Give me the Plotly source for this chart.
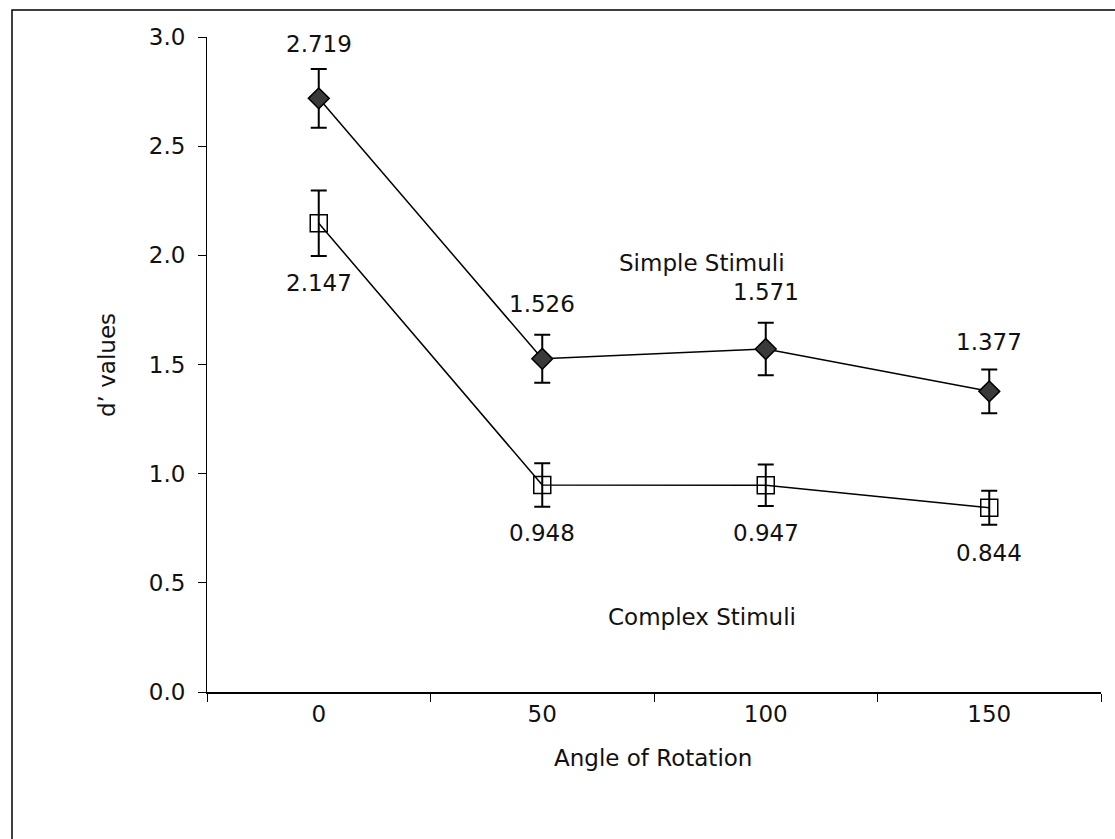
import plotly.graph_objects as go

angles = ["0", "50", "100", "150"]
simple_vals = [2.719, 1.526, 1.571, 1.377]
simple_err = [0.135, 0.11, 0.12, 0.10]
complex_vals = [2.147, 0.948, 0.947, 0.844]
complex_err = [0.15, 0.10, 0.095, 0.078]
y_ticks = [0.0, 0.5, 1.0, 1.5, 2.0, 2.5, 3.0]

FONT = "Century Gothic, URW Gothic, DejaVu Sans, sans-serif"
FS = 23

fig = go.Figure()
fig.add_trace(go.Scatter(
    x=angles, y=complex_vals, mode="lines+markers", name="Complex Stimuli",
    line=dict(color="black", width=1.5),
    marker=dict(symbol="square-open", size=17, color="black", line=dict(width=1.5)),
    error_y=dict(type="data", array=complex_err, color="black", thickness=2, width=8),
    showlegend=False,
))
fig.add_trace(go.Scatter(
    x=angles, y=simple_vals, mode="lines+markers", name="Simple Stimuli",
    line=dict(color="black", width=1.5),
    marker=dict(symbol="diamond", size=16, color="#3a3a3a", line=dict(color="black", width=1.5)),
    error_y=dict(type="data", array=simple_err, color="black", thickness=2, width=8),
    showlegend=False,
))

annotations = []
simple_shift = [54, 55, 57, 49]
complex_shift = [-60, -48, -48, -45]
for i, (v, s) in enumerate(zip(simple_vals, simple_shift)):
    annotations.append(dict(x=i, y=v, xref="x", yref="y", text=f"{v:.3f}", showarrow=False,
                            yshift=s, font=dict(family=FONT, size=FS, color="#111")))
for i, (v, s) in enumerate(zip(complex_vals, complex_shift)):
    annotations.append(dict(x=i, y=v, xref="x", yref="y", text=f"{v:.3f}", showarrow=False,
                            yshift=s, font=dict(family=FONT, size=FS, color="#111")))

annotations += [
    dict(x=(702 - 207) / 894, y=(692 - 248) / 655, xref="paper", yref="paper", text="Simple Stimuli",
         showarrow=False, font=dict(family=FONT, size=FS, color="#111")),
    dict(x=(702 - 207) / 894, y=(692 - 632) / 655, xref="paper", yref="paper", text="Complex Stimuli",
         showarrow=False, font=dict(family=FONT, size=FS, color="#111")),
    dict(x=(92 - 207) / 894, y=(692 - 365) / 655, xref="paper", yref="paper", text="d’ values",
         textangle=-90, showarrow=False, font=dict(family=FONT, size=FS, color="#111")),
    dict(x=(653 - 207) / 894, y=(692 - 773) / 655, xref="paper", yref="paper", text="Angle of Rotation",
         showarrow=False, font=dict(family=FONT, size=FS, color="#111")),
]

fig.update_layout(
    width=1115, height=839,
    margin=dict(l=207, r=14, t=37, b=147),
    paper_bgcolor="white", plot_bgcolor="white",
    font=dict(family=FONT, size=FS, color="#111"),
    annotations=annotations,
    shapes=[dict(type="rect", xref="paper", yref="paper",
                 x0=(12 - 207) / 894, x1=1.05, y0=-0.3, y1=(692 - 10) / 655,
                 line=dict(color="black", width=1.5), fillcolor="rgba(0,0,0,0)", layer="below")],
)
fig.update_xaxes(
    type="category", range=[-0.5, 3.5], tickson="boundaries",
    showline=True, linecolor="black", linewidth=2, ticks="outside", ticklen=8,
    tickcolor="black", tickwidth=1, showgrid=False, zeroline=False,
    tickfont=dict(family=FONT, size=FS, color="#111"),
)
fig.update_yaxes(
    range=[0, 3], tickvals=y_ticks, ticktext=[f"{t:.1f}" for t in y_ticks],
    showline=True, linecolor="black", linewidth=1, ticks="outside", ticklen=8,
    tickcolor="black", tickwidth=1, showgrid=False, zeroline=False,
    ticklabelstandoff=8,
    tickfont=dict(family=FONT, size=FS, color="#111"),
)

fig.write_html("out.html")
